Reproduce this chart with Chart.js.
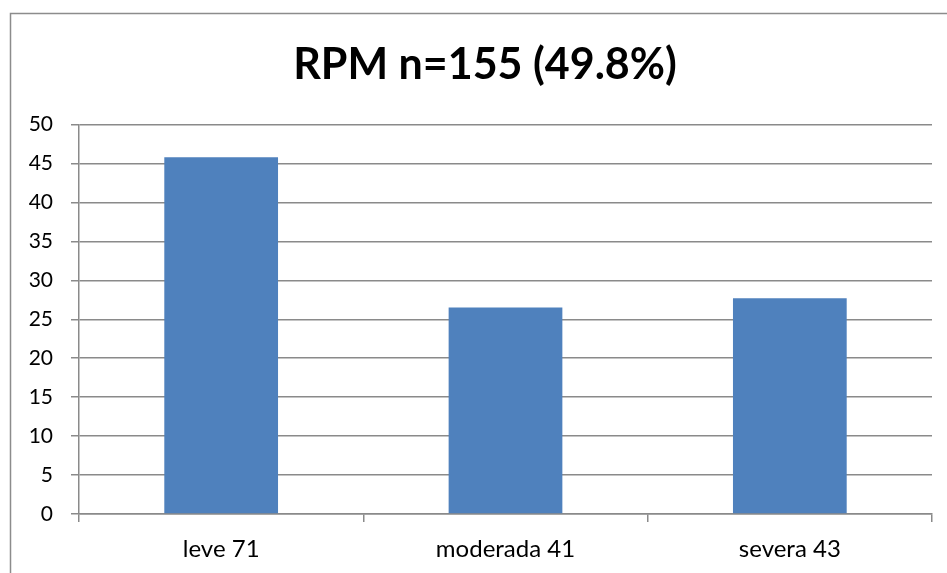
<!DOCTYPE html>
<html>
<head>
<meta charset="utf-8">
<script src="https://cdn.jsdelivr.net/npm/chart.js@4"></script>
<style>
  html, body { margin: 0; padding: 0; background: #ffffff; }
  canvas { display: block; }
</style>
</head>
<body>
<canvas id="c" width="947" height="573"></canvas>
<script>
// Severity categories and the share of cases (%) in each
const categories = ['leve 71', 'moderada 41', 'severa 43'];
const percentages = [45.8, 26.5, 27.7];
const yTicks = [0, 5, 10, 15, 20, 25, 30, 35, 40, 45, 50];
const chartTitle = 'RPM n=155 (49.8%)';

const FONT = 'Lato, "Open Sans", "Liberation Sans", sans-serif';
const GRID = '#8a8a8a';

// Thin frame around the chart object; title centred over the framed area
const framePlugin = {
  id: 'frame',
  afterLayout(chart) {
    if (chart.titleBlock) chart.titleBlock.left += 38;
  },
  beforeDraw(chart) {
    const ctx = chart.ctx;
    ctx.save();
    ctx.strokeStyle = '#8c8c8c';
    ctx.lineWidth = 1.5;
    ctx.strokeRect(10.5, 13.5, 1200, 1200);
    ctx.restore();
  }
};

new Chart(document.getElementById('c'), {
  type: 'bar',
  data: {
    labels: categories,
    datasets: [{
      data: percentages,
      backgroundColor: '#4f81bd',
      borderWidth: 0,
      categoryPercentage: 1.0,
      barPercentage: 0.4
    }]
  },
  options: {
    responsive: false,
    animation: false,
    layout: { padding: { left: 0, right: 15, top: 0, bottom: 0 } },
    plugins: {
      legend: { display: false },
      tooltip: { enabled: false },
      title: {
        display: true,
        text: chartTitle,
        color: '#000000',
        font: { family: FONT, size: 43, weight: 'bold' },
        padding: { top: 39, bottom: 34 }
      }
    },
    scales: {
      x: {
        offset: true,
        grid: {
          offset: true,
          drawOnChartArea: false,
          drawTicks: true,
          tickLength: 8,
          color: GRID,
          lineWidth: 1.5
        },
        border: { display: true, color: GRID, width: 1.5 },
        ticks: {
          color: '#000000',
          font: { family: FONT, size: 24 },
          padding: 13
        },
        afterFit(scale) { scale.height = 573 - 514; }
      },
      y: {
        min: 0,
        max: 50,
        afterBuildTicks(scale) { scale.ticks = yTicks.map(v => ({ value: v })); },
        grid: {
          drawTicks: true,
          tickLength: 8,
          color: GRID,
          lineWidth: 1.5
        },
        border: { display: true, color: GRID, width: 1.5 },
        ticks: {
          color: '#000000',
          font: { family: FONT, size: 21 },
          padding: 18
        },
        afterFit(scale) { scale.width = 79; }
      }
    }
  },
  plugins: [framePlugin]
});
</script>
</body>
</html>
